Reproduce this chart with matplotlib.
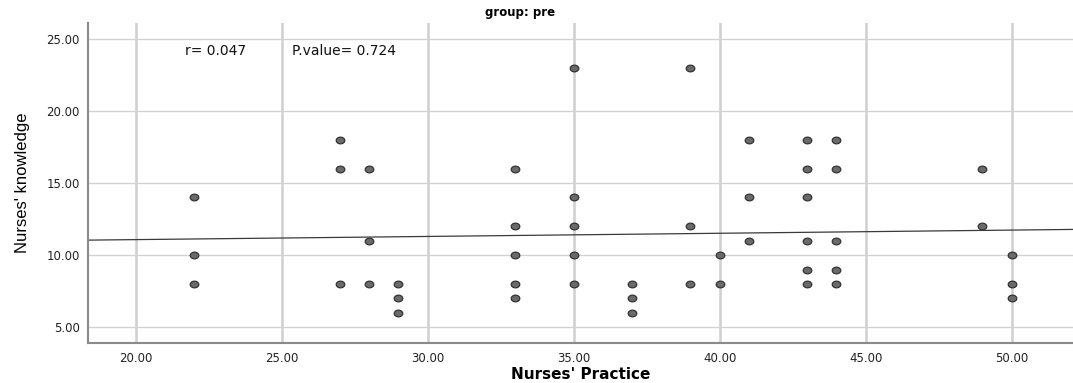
import numpy as np
import matplotlib
matplotlib.use("Agg")
import matplotlib.pyplot as plt
from matplotlib.path import Path
from matplotlib import font_manager

# Nurses' practice (x) and knowledge (y) scores
practice = [22, 22, 22,
            27, 27, 27,
            28, 28, 28,
            29, 29, 29,
            33, 33, 33, 33, 33,
            35, 35, 35, 35, 35,
            37, 37, 37,
            39, 39, 39,
            40, 40,
            41, 41, 41,
            43, 43, 43, 43, 43, 43,
            44, 44, 44, 44, 44,
            49, 49,
            50, 50, 50]
knowledge = [14, 10, 8,
             18, 16, 8,
             16, 11, 8,
             8, 7, 6,
             16, 12, 10, 8, 7,
             23, 14, 12, 10, 8,
             8, 7, 6,
             23, 12, 8,
             10, 8,
             18, 14, 11,
             18, 16, 14, 11, 9, 8,
             18, 16, 11, 9, 8,
             16, 12,
             10, 8, 7]

# fit line as drawn in the reference (intercept, slope)
fit_intercept = 10.64
fit_slope = 0.022

x_ticks = [20, 25, 30, 35, 40, 45, 50]
y_ticks = [5, 10, 15, 20, 25]

r_text = "r= 0.047"
p_text = "P.value= 0.724"


def pick_font(names):
    avail = {f.name for f in font_manager.fontManager.ttflist}
    for n in names:
        if n in avail:
            return n
    return "DejaVu Sans"


narrow = pick_font(["Liberation Sans Narrow", "Liberation Sans", "DejaVu Sans"])

# slightly flattened ellipse marker, like the SPSS dots
t = np.linspace(0, 2 * np.pi, 40)
ellipse = Path(np.column_stack([np.cos(t), 0.78 * np.sin(t)]), closed=True)

fig = plt.figure(figsize=(10.73, 3.83), dpi=100)
ax = fig.add_axes([0.082, 0.104, 0.918, 0.836])

ax.set_xlim(18.37, 52.1)
ax.set_ylim(3.9, 26.1)

ax.set_xticks(x_ticks)
ax.set_yticks(y_ticks)
ax.set_xticklabels([f"{v:.2f}" for v in x_ticks])
ax.set_yticklabels([f"{v:.2f}" for v in y_ticks])
ax.tick_params(length=0, labelsize=8.5, colors="#222222", pad=6)

for v in x_ticks:
    ax.axvline(v, color="#cfcfcf", lw=1.8, zorder=0)
for v in y_ticks:
    ax.axhline(v, color="#d2d2d2", lw=1.0, zorder=0)

for s in ["top", "right"]:
    ax.spines[s].set_visible(False)
for s in ["left", "bottom"]:
    ax.spines[s].set_color("#8a8a8a")
    ax.spines[s].set_linewidth(1.5)

xs = np.array(ax.get_xlim())
ax.plot(xs, fit_intercept + fit_slope * xs, color="#3a3a3a", lw=0.9, zorder=2)

ax.scatter(practice, knowledge, marker=ellipse, s=38, facecolor="#6a6a6a",
           edgecolor="#333333", linewidths=0.9, zorder=3)

ax.text(21.7, 24.15, r_text, fontsize=10, va="center", color="#111111")
ax.text(25.35, 24.15, p_text, fontsize=10, va="center", color="#111111")

ax.set_xlabel("Nurses' Practice", fontsize=11, fontweight="bold", labelpad=2)
ax.set_ylabel("Nurses' knowledge", fontsize=12, family=narrow, labelpad=12)

fig.text(0.485, 0.968, "group: pre", fontsize=8.5, fontweight="bold",
         ha="center", va="center")

fig.savefig("out.png", dpi=100)
